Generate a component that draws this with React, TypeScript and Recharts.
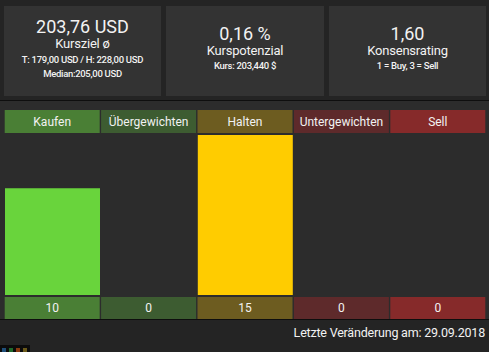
import React from "react";
import { BarChart, Bar, XAxis, YAxis, Cell } from "recharts";

const ratings = ["Kaufen", "Übergewichten", "Halten", "Untergewichten", "Sell"];
const counts = [10, 0, 15, 0, 0];
const headColors = ["#4a7f35", "#3d5c31", "#6d5c20", "#5e2a2b", "#862a2a"];
const barColors = ["#69d43c", "#69d43c", "#ffcc00", "#ffcc00", "#ffcc00"];
const yTicks = [0, 15];

const data = ratings.map((r, i) => ({ rating: r, count: counts[i] }));

const font = "Roboto, 'DejaVu Sans', sans-serif";
const CELL_W = 95;

function HeadTick(props: any) {
  const { x, index, payload } = props;
  return (
    <g>
      <rect x={x - CELL_W / 2} y={9} width={CELL_W} height={23} fill={headColors[index]} />
      <text x={x} y={20.5} textAnchor="middle" dominantBaseline="central" fill="#f2f2f2" fontSize={12} fontFamily={font}>
        {payload.value}
      </text>
    </g>
  );
}

function ValueTick(props: any) {
  const { x, index } = props;
  return (
    <g>
      <rect x={x - CELL_W / 2} y={196} width={CELL_W} height={22} fill={headColors[index]} />
      <text x={x} y={207} textAnchor="middle" dominantBaseline="central" fill="#f2f2f2" fontSize={12} fontFamily={font}>
        {counts[index]}
      </text>
    </g>
  );
}

// top offsets inside each 90px panel (big line, middle line, first small line)
const panels = [
  { big: "203,76 USD", mid: "Kursziel ø", small: ["T: 179,00 USD / H: 228,00 USD", "Median:205,00 USD"], left: 4, width: 157, rows: [10, 30, 48] },
  { big: "0,16 %", mid: "Kurspotenzial", small: ["Kurs: 203,440 $"], left: 166, width: 158, rows: [17, 37, 54] },
  { big: "1,60", mid: "Konsensrating", small: ["1 = Buy, 3 = Sell"], left: 329, width: 157, rows: [17, 37, 54] },
];

export default function App() {
  return (
    <div style={{ position: "absolute", left: 0, top: 0, width: 489, height: 352, background: "#242424", overflow: "hidden", fontFamily: font, color: "#f2f2f2" }}>
      {panels.map((p) => (
        <div key={p.big} style={{ position: "absolute", left: p.left, top: 6, width: p.width, height: 90, background: "#333333", textAlign: "center" }}>
          <div style={{ position: "absolute", top: p.rows[0], width: "100%", fontSize: 18, lineHeight: "22px" }}>{p.big}</div>
          <div style={{ position: "absolute", top: p.rows[1], width: "100%", fontSize: 13, lineHeight: "16px", letterSpacing: -0.2 }}>{p.mid}</div>
          {p.small.map((s, i) => (
            <div key={s} style={{ position: "absolute", top: p.rows[2] + i * 14, width: "100%", fontSize: 9.5, lineHeight: "12px", letterSpacing: -0.3, fontWeight: 500 }}>{s}</div>
          ))}
        </div>
      ))}
      <div style={{ position: "absolute", left: 0, top: 100, width: 489, height: 1, background: "#0e0e0e" }} />
      <div style={{ position: "absolute", left: 0, top: 101, width: 489, height: 218, background: "#2c2c2c" }}>
        <BarChart width={489} height={218} data={data} margin={{ top: 9, right: 3, bottom: 0, left: 4 }} barSize={CELL_W}>
          <XAxis xAxisId="head" dataKey="rating" orientation="top" height={25} axisLine={false} tickLine={false} tick={<HeadTick />} interval={0} />
          <XAxis xAxisId="val" dataKey="rating" orientation="bottom" height={24} axisLine={false} tickLine={false} tick={<ValueTick />} interval={0} />
          <YAxis hide domain={[0, 15]} ticks={yTicks} />
          <Bar xAxisId="head" dataKey="count" isAnimationActive={false}>
            {data.map((d, i) => (
              <Cell key={d.rating} fill={barColors[i]} />
            ))}
          </Bar>
        </BarChart>
      </div>
      <div style={{ position: "absolute", left: 0, top: 319, width: 489, height: 1, background: "#0e0e0e" }} />
      <div style={{ position: "absolute", right: 4, top: 325, fontSize: 12.5, lineHeight: "16px", letterSpacing: -0.2 }}>Letzte Veränderung am: 29.09.2018</div>
      <div style={{ position: "absolute", left: 0, top: 345, width: 30, height: 7, background: "#0c0c0c" }}>
        {["#1f4f7a", "#1f6a2a", "#8a3a10", "#6b5a1a"].map((c, i) => (
          <div key={c} style={{ position: "absolute", left: 2 + i * 7, top: 3, width: 4, height: 4, background: c }} />
        ))}
      </div>
    </div>
  );
}
